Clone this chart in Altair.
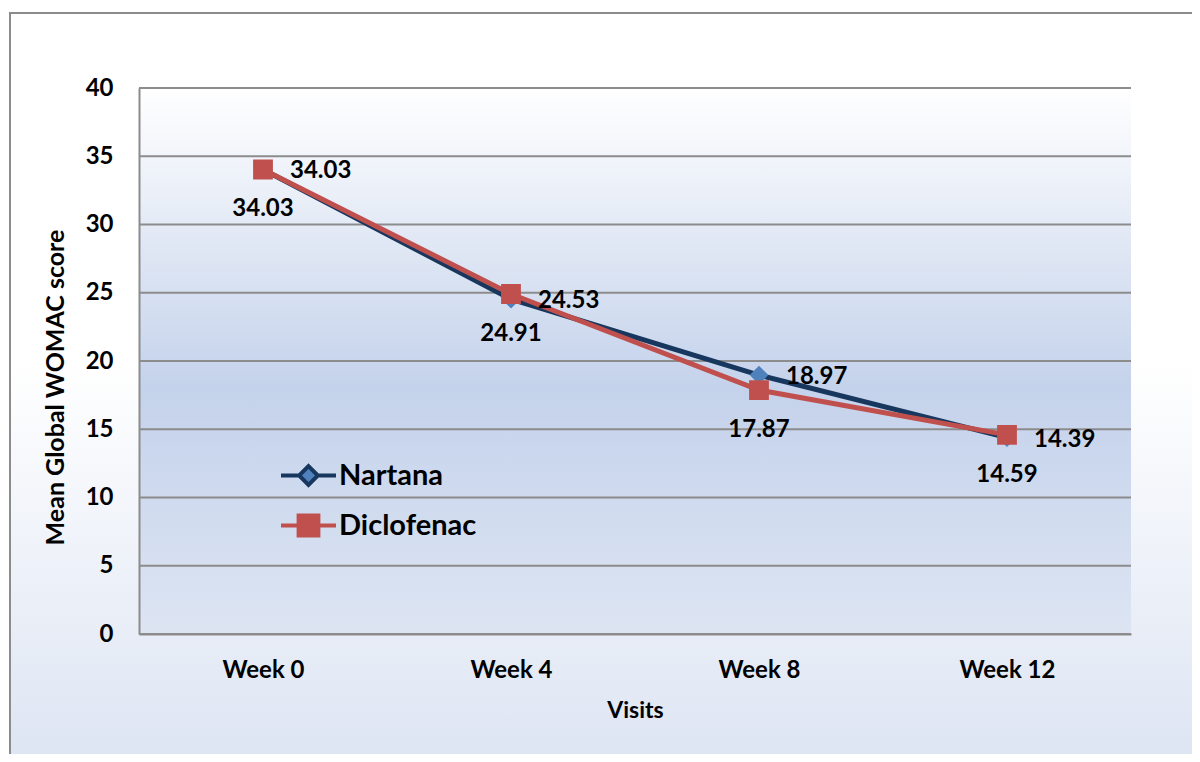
import altair as alt
import pandas as pd

weeks = ["Week 0", "Week 4", "Week 8", "Week 12"]
nartana = [34.03, 24.53, 18.97, 14.39]
diclofenac = [34.03, 24.91, 17.87, 14.59]
series_names = ["Nartana", "Diclofenac"]
y_ticks = [0, 5, 10, 15, 20, 25, 30, 35, 40]

rows = []
for w, v in zip(weeks, nartana):
    rows.append({"week": w, "score": v, "series": "Nartana", "label": f"{v:.2f}"})
for w, v in zip(weeks, diclofenac):
    rows.append({"week": w, "score": v, "series": "Diclofenac", "label": f"{v:.2f}"})
df = pd.DataFrame(rows)
grid_df = pd.DataFrame({"score": y_ticks})

FONT = "Lato"
W, H = 992, 546

stroke_colors = ["#17375e", "#c0504d"]
fill_colors = ["#4f81bd", "#c0504d"]
shapes = [
    "M-1,0L-0.36,0M0.36,0L1,0M0,-0.34L0.34,0L0,0.34L-0.34,0Z",
    "M-1,0L-0.36,0M0.36,0L1,0M-0.36,-0.36L0.36,-0.36L0.36,0.36L-0.36,0.36Z",
]

x_enc = alt.X("week:N", sort=weeks, scale=alt.Scale(paddingInner=0, paddingOuter=0.5),
              axis=alt.Axis(title="Visits", labelAngle=0, labelFont=FONT, labelFontSize=24,
                            labelFontWeight="bold", labelColor="black", labelPadding=24,
                            ticks=False, domainColor="#8c8c8c", domainWidth=2, zindex=1,
                            titleFont=FONT, titleFontSize=23, titleFontWeight="bold",
                            titleColor="black", titleY=76, titleBaseline="middle"))
y_scale = alt.Scale(domain=[0, 40], nice=False)
y_enc = alt.Y("score:Q", scale=y_scale,
              axis=alt.Axis(title="Mean Global WOMAC score", values=y_ticks,
                            labelFont=FONT, labelFontSize=24, labelFontWeight="bold",
                            labelColor="black", labelPadding=26, ticks=False,
                            domainColor="#8c8c8c", domainWidth=2, grid=False, zindex=1,
                            titleFont=FONT, titleFontSize=25, titleFontWeight="bold",
                            titleColor="black", titleX=-84, titleY=299, titleAngle=270,
                            titleAlign="center", titleBaseline="middle"))

stroke_scale = alt.Scale(domain=series_names, range=stroke_colors)
fill_scale = alt.Scale(domain=series_names, range=fill_colors)
shape_scale = alt.Scale(domain=series_names, range=shapes)
legend = alt.Legend(title=None, orient="none", legendX=140, legendY=358,
                    labelFont=FONT, labelFontSize=29, labelFontWeight="bold",
                    labelColor="black", symbolSize=3025, symbolStrokeWidth=4,
                    labelOffset=1, rowPadding=3)

outer_bg = alt.Chart(df).mark_rect(
    fill=alt.Gradient(gradient="linear", x1=0, y1=0, x2=0, y2=1,
                      stops=[alt.GradientStop(color="#ffffff", offset=0),
                             alt.GradientStop(color="#ffffff", offset=0.45),
                             alt.GradientStop(color="#dbe3f2", offset=1)]),
    stroke="#8c8c8c", strokeWidth=2
).encode(x=alt.value(-129), x2=alt.value(1100), y=alt.value(-75), y2=alt.value(700))

plot_bg = alt.Chart(df).mark_rect(
    fill=alt.Gradient(gradient="linear", x1=0, y1=0, x2=0, y2=1,
                      stops=[alt.GradientStop(color="#ffffff", offset=0),
                             alt.GradientStop(color="#c4d2eb", offset=0.55),
                             alt.GradientStop(color="#dde5f3", offset=1)])
).encode(x=alt.value(0), x2=alt.value("width"), y=alt.value(0), y2=alt.value("height"))

grid = alt.Chart(grid_df).mark_rule(color="#8c8c8c", strokeWidth=2).encode(
    x=alt.value(0), x2=alt.value("width"), y=alt.Y("score:Q", scale=y_scale))

base = alt.Chart(df)

def line_layer(name):
    return base.transform_filter(alt.datum.series == name).mark_line(strokeWidth=5).encode(
        x=x_enc, y=y_enc,
        stroke=alt.Stroke("series:N", scale=stroke_scale, legend=legend))

def point_layer(name):
    return base.transform_filter(alt.datum.series == name).mark_point(
        filled=True, size=3025, opacity=1, strokeWidth=0).encode(
        x=x_enc, y=y_enc,
        fill=alt.Fill("series:N", scale=fill_scale, legend=legend),
        shape=alt.Shape("series:N", scale=shape_scale, legend=legend))

text_n = base.transform_filter(alt.datum.series == "Nartana").mark_text(
    align="left", baseline="middle", dx=27, dy=2, font=FONT, fontSize=24,
    fontWeight="bold", color="black").encode(x=x_enc, y=y_enc, text="label:N")
text_d = base.transform_filter(alt.datum.series == "Diclofenac").mark_text(
    align="center", baseline="middle", dy=40, font=FONT, fontSize=24,
    fontWeight="bold", color="black").encode(x=x_enc, y=y_enc, text="label:N")

chart = alt.layer(
    outer_bg, plot_bg, grid,
    line_layer("Nartana"), point_layer("Nartana"),
    line_layer("Diclofenac"), point_layer("Diclofenac"),
    text_n, text_d
).properties(
    width=W, height=H,
    autosize=alt.AutoSizeParams(type="none"),
    padding={"left": 131, "top": 80, "right": 61, "bottom": 120},
).configure_view(stroke=None).configure(background="white")

chart.save("out.html", embed_options={"renderer": "svg", "actions": False})
